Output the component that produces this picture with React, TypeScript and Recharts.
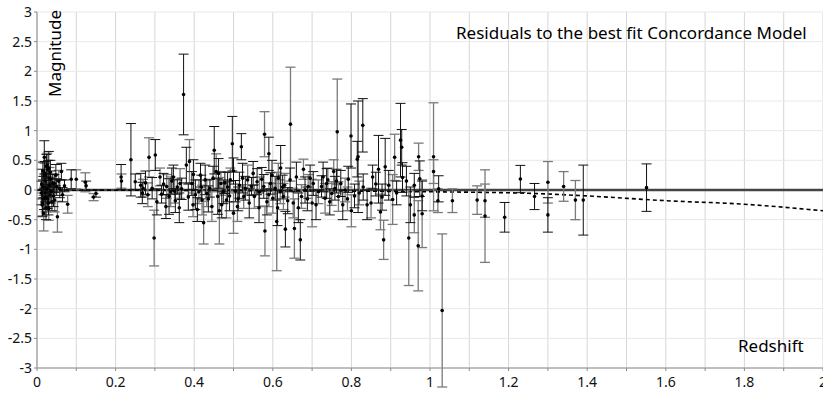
import {
  ComposedChart,
  Scatter,
  Line,
  XAxis,
  YAxis,
  CartesianGrid,
  ErrorBar,
  ReferenceLine,
} from 'recharts'

// [redshift, residual, error]
const blackSample: [number, number, number][] = [
  [0.011, -0.05, 0.2], [0.012, 0.1, 0.25], [0.014, -0.22, 0.22], [0.015, 0.32, 0.15],
  [0.016, 0.05, 0.18], [0.018, -0.15, 0.18], [0.0186, 0.55, 0.28], [0.02, 0.28, 0.2],
  [0.021, -0.05, 0.15], [0.022, 0.15, 0.12], [0.023, -0.3, 0.2], [0.024, 0.4, 0.2],
  [0.025, 0.02, 0.14], [0.027, -0.15, 0.16], [0.028, 0.35, 0.15], [0.029, -0.22, 0.2],
  [0.03, 0.37, 0.28], [0.031, 0.08, 0.12], [0.033, -0.08, 0.14], [0.034, 0.3, 0.2],
  [0.035, 0.18, 0.14], [0.038, -0.2, 0.15], [0.04, 0.12, 0.15], [0.042, -0.1, 0.18],
  [0.044, 0.11, 0.15], [0.048, 0.25, 0.18], [0.05, 0.05, 0.14], [0.058, 0.02, 0.15],
  [0.062, 0.31, 0.14], [0.065, -0.08, 0.12], [0.07, 0.07, 0.1], [0.087, 0.18, 0.16],
  [0.125, 0.07, 0.08], [0.15, -0.06, 0.06],
  [0.214, 0.22, 0.21], [0.239, 0.51, 0.61], [0.25, 0.14, 0.13], [0.264, 0.08, 0.2],
  [0.268, -0.05, 0.18], [0.276, 0.12, 0.2], [0.293, 0.03, 0.18], [0.301, 0.59, 0.26],
  [0.305, -0.2, 0.22], [0.317, -0.07, 0.15], [0.322, 0.1, 0.18], [0.328, -0.28, 0.2],
  [0.336, -0.11, 0.3], [0.343, 0.15, 0.22], [0.347, 0.22, 0.2], [0.352, -0.18, 0.2],
  [0.357, 0.05, 0.12], [0.362, -0.3, 0.25], [0.368, 0.02, 0.18], [0.373, 1.61, 0.68],
  [0.38, 0.42, 0.3], [0.385, -0.12, 0.22], [0.394, 0.11, 0.2], [0.398, 0.26, 0.25],
  [0.403, -0.08, 0.25], [0.408, -0.33, 0.2], [0.416, 0.25, 0.2], [0.418, 0.05, 0.2],
  [0.428, 0.17, 0.25], [0.436, -0.15, 0.22], [0.44, 0.03, 0.15], [0.448, 0.2, 0.2],
  [0.451, 0.67, 0.4], [0.46, -0.11, 0.3], [0.462, 0.28, 0.25], [0.47, -0.25, 0.22],
  [0.474, -0.03, 0.2], [0.478, 0.12, 0.18], [0.485, 0.05, 0.25], [0.49, -0.1, 0.25],
  [0.497, 0.78, 0.46], [0.5, 0.32, 0.22], [0.505, -0.02, 0.18], [0.512, -0.15, 0.2],
  [0.515, 0.08, 0.22], [0.52, 0.73, 0.22], [0.523, 0.2, 0.25], [0.53, 0.03, 0.2],
  [0.54, -0.22, 0.25], [0.546, 0.06, 0.15], [0.55, 0.28, 0.2], [0.56, 0.14, 0.22],
  [0.565, -0.3, 0.25], [0.572, 0.18, 0.2], [0.577, 0.06, 0.2], [0.585, -0.2, 0.22],
  [0.59, 0.61, 0.28], [0.594, 0.11, 0.18], [0.598, 0.25, 0.25], [0.606, 0.03, 0.2],
  [0.612, -0.3, 0.3], [0.62, 0.37, 0.38], [0.625, 0.05, 0.2], [0.632, -0.66, 0.3],
  [0.638, -0.18, 0.22], [0.644, 0.17, 0.2], [0.66, 0.22, 0.25], [0.665, -0.3, 0.25],
  [0.67, -0.84, 0.34], [0.682, 0.0, 0.22], [0.688, -0.15, 0.2], [0.695, 0.2, 0.22],
  [0.703, 0.11, 0.2], [0.71, -0.25, 0.25], [0.724, 0.06, 0.18], [0.728, 0.22, 0.25],
  [0.737, 0.11, 0.25], [0.745, -0.2, 0.22], [0.758, 0.03, 0.2], [0.762, 0.15, 0.2],
  [0.773, 0.11, 0.22], [0.778, -0.25, 0.25], [0.792, 0.18, 0.22], [0.799, 0.91, 0.54],
  [0.808, -0.1, 0.2], [0.815, 0.52, 0.3], [0.817, 0.56, 0.94], [0.829, 1.09, 0.45],
  [0.83, 0.05, 0.22], [0.84, -0.25, 0.25], [0.854, 0.22, 0.2], [0.862, 0.1, 0.2],
  [0.869, 0.35, 0.57], [0.878, -0.12, 0.22], [0.886, 0.39, 0.48], [0.895, 0.08, 0.25],
  [0.915, -0.05, 0.2], [0.925, 0.84, 0.62], [0.928, 0.72, 0.3], [0.93, 0.21, 0.25],
  [0.94, 0.15, 0.25], [0.95, -0.25, 0.3], [0.96, 0.08, 0.2], [0.974, 0.19, 0.3],
  [0.98, -0.1, 0.25], [1.022, 0.02, 0.22],
  [1.19, -0.46, 0.25], [1.23, 0.185, 0.23], [1.266, -0.11, 0.22], [1.3, -0.42, 0.29],
  [1.39, -0.17, 0.59], [1.551, 0.04, 0.4],
]

const graySample: [number, number, number][] = [
  [0.013, -0.25, 0.2], [0.017, -0.39, 0.3], [0.019, 0.25, 0.2], [0.022, -0.12, 0.25],
  [0.026, 0.42, 0.2], [0.03, -0.31, 0.2], [0.032, 0.2, 0.18], [0.036, -0.02, 0.2],
  [0.045, -0.17, 0.2], [0.052, -0.45, 0.26], [0.055, 0.15, 0.18], [0.078, -0.24, 0.15],
  [0.1, 0.18, 0.16], [0.123, 0.13, 0.16], [0.144, -0.12, 0.06],
  [0.215, 0.15, 0.12], [0.27, 0.03, 0.15], [0.282, -0.08, 0.2], [0.285, 0.55, 0.33],
  [0.298, -0.81, 0.47], [0.313, 0.22, 0.15], [0.33, 0.06, 0.2], [0.34, -0.03, 0.25],
  [0.35, -0.02, 0.2], [0.364, 0.11, 0.25], [0.388, 0.48, 0.37], [0.397, -0.25, 0.2],
  [0.412, -0.03, 0.2], [0.42, -0.17, 0.25], [0.424, -0.55, 0.36], [0.432, -0.06, 0.22],
  [0.445, -0.28, 0.25], [0.456, 0.31, 0.3], [0.464, -0.35, 0.56], [0.468, 0.11, 0.2],
  [0.482, -0.17, 0.3], [0.492, 0.17, 0.2], [0.5, -0.39, 0.34], [0.51, -0.28, 0.25],
  [0.526, -0.11, 0.2], [0.536, 0.17, 0.25], [0.553, -0.11, 0.2], [0.566, -0.03, 0.25],
  [0.579, 0.94, 0.38], [0.58, -0.69, 0.42], [0.59, -0.08, 0.2], [0.6, -0.14, 0.25],
  [0.61, -0.53, 0.83], [0.614, 0.2, 0.25], [0.619, -0.03, 0.2], [0.627, -0.11, 0.22],
  [0.63, 0.08, 0.2], [0.645, 1.11, 0.96], [0.652, -0.22, 0.25], [0.655, -0.65, 0.5],
  [0.673, -0.11, 0.2], [0.678, 0.35, 0.17], [0.69, 0.06, 0.2], [0.7, -0.22, 0.4],
  [0.716, -0.03, 0.2], [0.733, -0.14, 0.25], [0.74, 0.17, 0.2], [0.75, -0.06, 0.2],
  [0.755, 0.31, 0.2], [0.764, 0.98, 0.89], [0.767, -0.11, 0.25], [0.784, 0.0, 0.2],
  [0.79, -0.15, 0.2], [0.8, -0.35, 0.27], [0.82, -0.05, 0.2], [0.85, -0.22, 0.25],
  [0.874, -0.37, 0.3], [0.882, -0.84, 0.33], [0.905, -0.16, 0.42], [0.91, 0.55, 0.39],
  [0.946, -0.81, 0.8], [0.96, -0.42, 0.3], [0.97, -0.94, 0.76], [0.971, 0.56, 0.23],
  [0.98, -0.4, 0.57], [1.009, 0.56, 0.91], [1.009, 0.31, 0.2], [1.02, -0.18, 0.2],
  [1.031, -2.03, 1.29], [1.057, -0.18, 0.2], [1.12, -0.17, 0.24], [1.14, -0.44, 0.78],
  [1.14, -0.18, 0.28], [1.3, 0.13, 0.35], [1.34, 0.06, 0.25], [1.37, -0.17, 0.33],
]

// alternative model, residual relative to concordance
const altModelZ = [0, 0.5, 1.0, 1.25, 1.4, 1.6, 1.8, 2.0]
const altModelMu = [0, -0.01, -0.03, -0.055, -0.1, -0.18, -0.24, -0.35]

const xTicks = [0, 0.1, 0.2, 0.3, 0.4, 0.5, 0.6, 0.7, 0.8, 0.9, 1, 1.1, 1.2, 1.3, 1.4, 1.5, 1.6, 1.7, 1.8, 1.9, 2]
const xLabels = ['0', '', '0.2', '', '0.4', '', '0.6', '', '0.8', '', '1', '', '1.2', '', '1.4', '', '1.6', '', '1.8', '', '2']
const yTicks = [-3, -2.5, -2, -1.5, -1, -0.5, 0, 0.5, 1, 1.5, 2, 2.5, 3]

const FONT = "'Noto Sans', 'DejaVu Sans', sans-serif"

const toRows = (arr: [number, number, number][]) => arr.map(([z, mu, err]) => ({ z, mu, err }))
const blackRows = toRows(blackSample)
const grayRows = toRows(graySample)
const altRows = altModelZ.map((z, i) => ({ z, mu: altModelMu[i] }))

const Dot = (p: any) => <circle cx={p.cx} cy={p.cy} r={1.8} fill="#000" />

export default function App() {
  return (
    <div style={{ position: 'fixed', left: 0, top: 0, width: 823, height: 395, background: '#fff' }}>
      <ComposedChart width={823} height={395} margin={{ top: 12, right: 0, bottom: 0, left: 0 }}>
        <CartesianGrid horizontal={false} stroke="#d6d6d6" />
        <CartesianGrid vertical={false} stroke="#e8e8e8" />
        <XAxis
          dataKey="z"
          type="number"
          domain={[0, 2]}
          ticks={xTicks}
          tickFormatter={(v: number) => xLabels[xTicks.indexOf(v)] ?? ''}
          height={27}
          stroke="#8a8a8a"
          tickSize={3}
          tickMargin={6}
          tick={{ fill: '#111', fontSize: 14, fontFamily: FONT }}
          interval={0}
        />
        <YAxis
          type="number"
          domain={[-3, 3]}
          allowDataOverflow
          ticks={yTicks}
          width={37}
          stroke="#8a8a8a"
          tickSize={3}
          tickMargin={2}
          tick={{ fill: '#111', fontSize: 14, fontFamily: FONT }}
          interval={0}
        />
        <ReferenceLine y={0} stroke="#444" strokeWidth={2.5} />
        <Line
          data={altRows}
          dataKey="mu"
          type="monotone"
          stroke="#000"
          strokeWidth={1.6}
          strokeDasharray="4 3"
          dot={false}
          isAnimationActive={false}
        />
        <Scatter data={grayRows} dataKey="mu" shape={Dot} isAnimationActive={false}>
          <ErrorBar dataKey="err" direction="y" width={5} stroke="#7a7a7a" strokeWidth={1.3} />
        </Scatter>
        <Scatter data={blackRows} dataKey="mu" shape={Dot} isAnimationActive={false}>
          <ErrorBar dataKey="err" direction="y" width={5} stroke="#111" strokeWidth={1} />
        </Scatter>
      </ComposedChart>
      <svg
        width={823}
        height={395}
        style={{ position: 'absolute', left: 0, top: 0, pointerEvents: 'none' }}
        fontFamily={FONT}
        fontSize={17}
        fill="#000"
      >
        <text x={456} y={39}>Residuals to the best fit Concordance Model</text>
        <text x={738} y={352}>Redshift</text>
        <text transform="translate(61,97) rotate(-90)">Magnitude</text>
      </svg>
    </div>
  )
}
